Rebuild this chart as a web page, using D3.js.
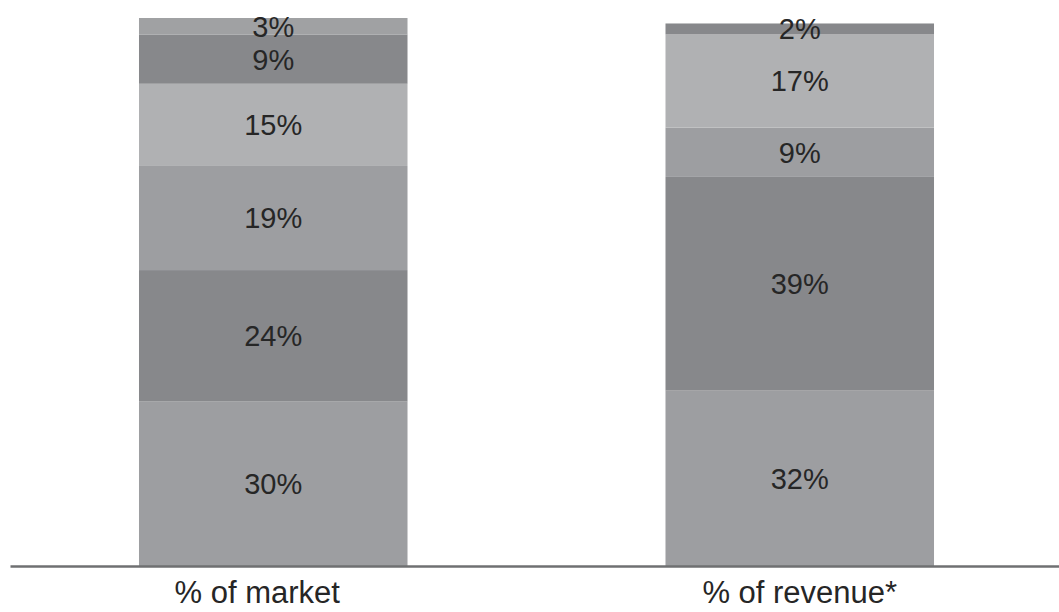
<!DOCTYPE html>
<html>
<head>
<meta charset="utf-8">
<script src="https://cdn.jsdelivr.net/npm/d3@7"></script>
<style>
  html, body { margin: 0; padding: 0; background: #fff; }
  svg { display: block; }
  .seg-label, .cat-label { font-family: "Liberation Sans", Arial, sans-serif; fill: #262626; }
</style>
</head>
<body>
<svg id="chart"></svg>
<script>
// data (bottom segment first)
const categories = ["% of market", "% of revenue*"]
const marketShares = [30, 24, 19, 15, 9, 3]
const revenueShares = [32, 39, 9, 17, 2]

// segment tones, bottom to top (same pattern in both bars)
const tones = ["#9d9ea1", "#87888b", "#9d9ea1", "#b0b1b3", "#87888b", "#a0a1a3"]
// small horizontal nudge of the category labels
const labelShift = [-16, 0]

const width = 1059, height = 612
const baseY = 566, topY = 18

const svg = d3.select("#chart").attr("width", width).attr("height", height)

const xScale = d3.scaleBand().domain(categories).range([10, 1063]).paddingInner(0.49).paddingOuter(0.245)
const yScale = d3.scaleLinear().domain([0, 100]).range([baseY, topY])

// build stacked segments per bar
const bars = [marketShares, revenueShares].map((vals, i) => {
  let acc = 0
  const segs = vals.map((v, j) => {
    const s = { cat: categories[i], idx: j, value: v, y0: acc, y1: acc + v }
    acc += v
    return s
  })
  return segs
})
const segments = bars.flat()

const g = svg.append("g")

g.selectAll(".seg").data(segments).join("rect").attr("class", "seg")
  .attr("x", d => xScale(d.cat))
  .attr("width", xScale.bandwidth())
  .attr("y", d => yScale(d.y1))
  .attr("height", d => yScale(d.y0) - yScale(d.y1))
  .attr("fill", d => tones[d.idx])

g.selectAll(".seg-label").data(segments).join("text").attr("class", "seg-label")
  .attr("x", d => xScale(d.cat) + xScale.bandwidth() / 2)
  .attr("y", d => (yScale(d.y0) + yScale(d.y1)) / 2)
  .attr("dy", "0.36em")
  .attr("text-anchor", "middle")
  .style("font-size", "29px")
  .text(d => d.value + "%")

// baseline + category labels
const xAxis = d3.axisBottom(xScale).tickSize(0).tickSizeOuter(0)
const axisG = svg.append("g").attr("transform", `translate(0, ${baseY})`).call(xAxis)
axisG.select(".domain").attr("stroke", "#6f7072").attr("stroke-width", 2.5)
axisG.selectAll(".tick text").attr("class", "cat-label")
  .attr("y", 37).attr("dy", 0)
  .attr("dx", (d, i) => labelShift[i])
  .style("font-family", "'Liberation Sans', Arial, sans-serif")
  .style("font-size", "31px").attr("fill", "#262626")
</script>
</body>
</html>
